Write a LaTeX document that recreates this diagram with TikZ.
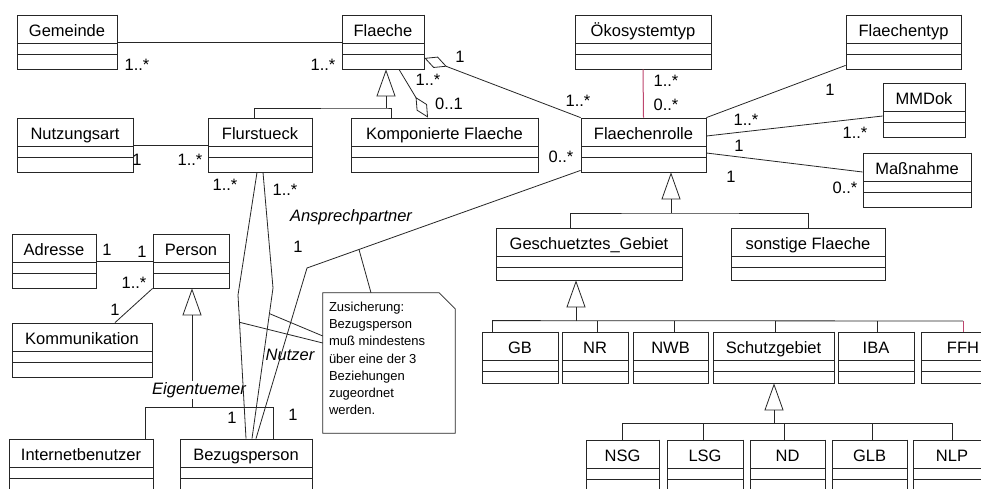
\documentclass[tikz,border=0pt]{standalone}
\usepackage{fontspec}
\setmainfont{Liberation Sans}
\usetikzlibrary{arrows.meta}
\definecolor{rose}{RGB}{190,70,110}

\begin{document}
\begin{tikzpicture}[x=1pt,y=-1pt,
  font=\fontsize{16.5}{19}\selectfont,
  cls/.style={draw=black!85,line width=0.8pt,inner sep=0pt},
  assoc/.style={draw=black!85,line width=0.8pt},
  gen/.style={assoc,-{Triangle[open,length=27pt,width=19pt]}},
  agg/.style={assoc,{Diamond[open,length=24pt,width=12pt]}-},
  aggend/.style={assoc,-{Diamond[open,length=24pt,width=12pt]}},
  mult/.style={inner sep=0pt},
  role/.style={inner sep=1pt,font=\fontsize{16.5}{19}\selectfont\itshape},
  notebox/.style={inner sep=0pt,minimum width=132pt,minimum height=140pt},
  notetext/.style={inner sep=0pt,align=left,font=\fontsize{13}{17.2}\selectfont}]
\fill[white] (0,0) rectangle (981,488);
\path[use as bounding box] (0,0) rectangle (981,488);
\clip (0,0) rectangle (981,488);

\foreach \nm/\xa/\ya/\xb/\yb/\txt in {
  gemeinde/17/15/117/69/Gemeinde,
  flaeche/342/15/424/69/Flaeche,
  oeko/575/15/711/69/Ökosystemtyp,
  ftyp/846/15/961/69/Flaechentyp,
  mmdok/883/83/965/137/MMDok,
  massnahme/863/153/971/207/Maßnahme,
  nutzungsart/17/118/133/172/Nutzungsart,
  flur/208/118/312/172/Flurstueck,
  komp/351/118/538/172/Komponierte Flaeche,
  rolle/581/118/706/172/Flaechenrolle,
  adresse/12/234/96/288/Adresse,
  person/153/234/229/288/Person,
  komm/12/323/152/377/Kommunikation,
  internet/9/439/153/493/Internetbenutzer,
  bezug/180/439/312/493/Bezugsperson,
  gg/496/228/682/280/Geschuetztes\_Gebiet,
  sonst/731/228/885/280/sonstige Flaeche,
  gb/482/332/558/383/GB,
  nr/562/332/628/383/NR,
  nwb/633/332/708/383/NWB,
  schutz/713/332/834/383/Schutzgebiet,
  iba/838/332/914/383/IBA,
  ffh/921/332/1005/383/FFH,
  nsg/586/440/659/494/NSG,
  lsg/667/440/743/494/LSG,
  nd/750/440/825/494/ND,
  glb/832/440/907/494/GLB,
  nlp/913/440/991/494/NLP}{
  \node[cls,minimum width={\xb-\xa},minimum height={\yb-\ya}] (\nm) at ({(\xa+\xb)/2},{(\ya+\yb)/2}) {};
  \node[anchor=base,inner sep=0pt] (\nm-name) at ({(\xa+\xb)/2},{\ya+21.5}) {\txt};
  \draw[assoc] (\xa,\ya+28) -- (\xb,\ya+28) (\xa,\ya+39) -- (\xb,\ya+39);
  \draw[line width=1.8pt,black!85] (\nm.north east) -- (\nm.south east) -- (\nm.south west);
}

\node[notebox] (note) at (389,363) {};
\draw[assoc] (note.north west) -- ([xshift=-16pt]note.north east) -- ([yshift=-16pt]note.north east)
  -- (note.south east) -- (note.south west) -- cycle;
\node[notetext,anchor=north west] (notetxt) at ([xshift=6pt,yshift=-9pt]note.north west)
  {Zusicherung:\\Bezugsperson\\muß mindestens\\über eine der 3\\Beziehungen\\zugeordnet\\werden.};

\draw[assoc] (gemeinde.east) -- (flaeche.west);
\draw[assoc] (nutzungsart.east) -- (flur.west);
\draw[assoc] (adresse.east) -- (person.west);
\draw[assoc] (person.south west) -- ([xshift=33pt]komm.north);
\draw[agg] ([yshift=-16pt]flaeche.east) -- (rolle.north west);
\draw[aggend] ([xshift=16pt]flaeche.south) -- ([xshift=-16.5pt]komp.north);
\draw[assoc,draw=rose,line width=1pt] (oeko.south) -- (rolle.north);
\draw[assoc] (rolle.north east) -- ([yshift=4pt]ftyp.south west);
\draw[assoc] ([yshift=9pt]rolle.east) -- ([yshift=-6pt]mmdok.west);
\draw[assoc] ([yshift=-8pt]rolle.east) -- ([yshift=8pt]massnahme.west);

\coordinate (fj) at (386,108);
\draw[assoc] ([xshift=-6pt]flur.north) |- (fj) -| ([xshift=-53.5pt]komp.north);
\draw[gen] (fj) -- (fj |- flaeche.south);

\coordinate (pj) at (192,407);
\draw[assoc] ([xshift=64pt]internet.north) |- (pj) -| ([xshift=27pt]bezug.north);
\draw[gen] (pj) -- (pj |- person.south);
\node[role,fill=white] (eigentuemer) at (199,390) {Eigentuemer};

\coordinate (rj) at (671,213);
\draw[assoc] ([xshift=-19pt]gg.north) |- (rj) -| (sonst.north);
\draw[gen] (rj) -- (rj |- rolle.south);

\coordinate (gj) at (576,321);
\foreach \k/\dx in {gb/-28,nr/2,nwb/3.5,schutz/1.5,iba/1}
  \draw[assoc] ([xshift=\dx pt]\k.north) -- ++(0,-11);
\draw[assoc] ([xshift=-28pt]gb.north) ++(0,-11) -- (ffh.north |- gj);
\draw[assoc,draw=rose,line width=1pt] (ffh.north) -- (ffh.north |- gj);
\draw[gen] (gj) -- (gj |- gg.south);

\coordinate (sj) at (774,423);
\foreach \k/\dx in {nsg/0,lsg/-2,nd/-3.5,glb/2.5,nlp/0}
  \draw[assoc] ([xshift=\dx pt]\k.north) -- ++(0,-17);
\draw[assoc] (nsg.north |- sj) -- (nlp.north |- sj);
\draw[gen] (sj) -- (sj |- schutz.south);

\coordinate (ap) at (307,268);
\coordinate (eg) at (238,295);
\coordinate (nu) at (273,288);
\draw[assoc] ([yshift=2pt]rolle.south west) -- coordinate[pos=0.81] (apnote) (ap) -- ([xshift=10pt]bezug.north);
\draw[assoc] ([xshift=-3pt]flur.south) -- (eg) -- coordinate[pos=0.19] (egnote) (bezug.north);
\draw[assoc] ([xshift=3pt]flur.south) -- (nu) -- coordinate[pos=0.17] (nunote) ([xshift=6pt]bezug.north);
\draw[assoc] (egnote) -- ([yshift=20pt]note.west);
\draw[assoc] (nunote) -- ([yshift=27pt]note.west);
\draw[assoc] (apnote) -- ([xshift=-18pt]note.north);

\node[role] (ansprech) at (351,217) {Ansprechpartner};
\node[role] (nutzer) at (290,355) {Nutzer};

\node[mult] (m1) at (137,65) {1..*};
\node[mult] (m2) at (323,65) {1..*};
\node[mult] (m3) at (460,57) {1};
\node[mult] (m4) at (578,101) {1..*};
\node[mult] (m5) at (428,80) {1..*};
\node[mult] (m6) at (449,104) {0..1};
\node[mult] (m7) at (666,81) {1..*};
\node[mult] (m8) at (666,105) {0..*};
\node[mult] (m9) at (830,90) {1};
\node[mult] (m10) at (746,120) {1..*};
\node[mult] (m11) at (855,133) {1..*};
\node[mult] (m12) at (739,146) {1};
\node[mult] (m13) at (731,177) {1};
\node[mult] (m14) at (845,188) {0..*};
\node[mult] (m15) at (137,160) {1};
\node[mult] (m16) at (190,160) {1..*};
\node[mult] (m17) at (225,185) {1..*};
\node[mult] (m18) at (285,190) {1..*};
\node[mult] (m19) at (232,418) {1};
\node[mult] (m20) at (293,415) {1};
\node[mult] (m21) at (298,247) {1};
\node[mult] (m22) at (561,157) {0..*};
\node[mult] (m23) at (107,250) {1};
\node[mult] (m24) at (142,252) {1};
\node[mult] (m25) at (134,283) {1..*};
\node[mult] (m26) at (115,310) {1};
\end{tikzpicture}
\end{document}
